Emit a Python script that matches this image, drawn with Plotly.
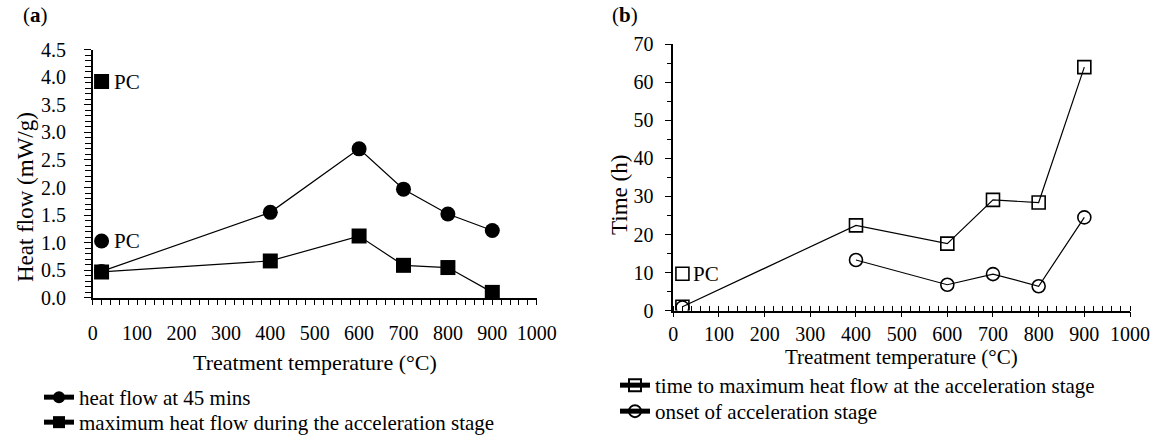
import plotly.graph_objects as go

# ---------------- data ----------------
temps = [20, 400, 600, 700, 800, 900]
heat45 = [0.48, 1.55, 2.70, 1.97, 1.52, 1.22]
heatmax = [0.47, 0.67, 1.12, 0.59, 0.55, 0.10]
pc_temp = [20]
pc_heat45 = [1.03]
pc_heatmax = [3.92]

time_max = [1.0, 22.4, 17.6, 29.1, 28.4, 64.0]
onset_temps = [400, 600, 700, 800, 900]
onset = [13.3, 6.8, 9.6, 6.4, 24.5]
onset_start_temp = [20]
onset_start = [0.8]
pc_time_max = [9.7]

x_ticks = [0, 100, 200, 300, 400, 500, 600, 700, 800, 900, 1000]

W, H = 1163, 441
FONT = "Liberation Serif"
FS_TICK = 20
FS_LEG = 21
FS_TITLE = 22


def px(x):
    return x / W


def py(y):
    return 1 - y / H


fig = go.Figure()

line = dict(color="black", width=1.2)

# panel (a)
fig.add_trace(go.Scatter(x=temps, y=heat45, mode="lines+markers", name="heat flow at 45 mins",
                         line=line, marker=dict(symbol="circle", size=15, color="black"),
                         xaxis="x", yaxis="y", legend="legend"))
fig.add_trace(go.Scatter(x=temps, y=heatmax, mode="lines+markers",
                         name="maximum heat flow during the acceleration stage",
                         line=line, marker=dict(symbol="square", size=15, color="black"),
                         xaxis="x", yaxis="y", legend="legend3"))
fig.add_trace(go.Scatter(x=pc_temp, y=pc_heat45, mode="markers", showlegend=False,
                         marker=dict(symbol="circle", size=15, color="black"), xaxis="x", yaxis="y"))
fig.add_trace(go.Scatter(x=pc_temp, y=pc_heatmax, mode="markers", showlegend=False,
                         marker=dict(symbol="square", size=15, color="black"), xaxis="x", yaxis="y"))

# panel (b)
open_sq = dict(symbol="square-open", size=13, color="black", line=dict(width=1.6, color="black"))
open_ci = dict(symbol="circle-open", size=13, color="black", line=dict(width=1.6, color="black"))
fig.add_trace(go.Scatter(x=temps, y=time_max, mode="lines+markers",
                         name="time to maximum heat flow at the acceleration stage",
                         line=line, marker=open_sq, xaxis="x2", yaxis="y2", legend="legend2"))
fig.add_trace(go.Scatter(x=onset_temps, y=onset, mode="lines+markers",
                         name="onset of acceleration stage",
                         line=line, marker=open_ci, xaxis="x2", yaxis="y2", legend="legend4"))
fig.add_trace(go.Scatter(x=onset_start_temp, y=onset_start, mode="markers", showlegend=False,
                         marker=open_ci, xaxis="x2", yaxis="y2"))
fig.add_trace(go.Scatter(x=pc_temp, y=pc_time_max, mode="markers", showlegend=False,
                         marker=open_sq, xaxis="x2", yaxis="y2"))

tickfont = dict(family=FONT, size=FS_TICK, color="black")

# domains
xa_dom = [px(92.7), px(536.7)]
ya_dom = [py(297.9), py(49.5)]
xb_dom = [px(673.3), px(1130.0)]
yb_dom = [py(310.6), py(44.3)]

common_x = dict(range=[0, 1000], tickvals=x_ticks, showgrid=False, zeroline=False,
                showline=True, linecolor="black", linewidth=1.6, tickcolor="black",
                tickwidth=1.3, tickfont=tickfont, fixedrange=True, automargin=False)


def leg(x, y):
    return dict(x=px(x), y=py(y), xanchor="left", yanchor="top", bgcolor="rgba(0,0,0,0)",
                font=dict(family=FONT, size=FS_LEG, color="black"), tracegroupgap=0,
                itemsizing="constant", borderwidth=0)


fig.update_layout(
    template="none",
    width=W, height=H, margin=dict(l=0, r=0, t=0, b=0, pad=0, autoexpand=False),
    paper_bgcolor="white", plot_bgcolor="white",
    font=dict(family=FONT, size=FS_TICK, color="black"),
    xaxis=dict(domain=xa_dom, anchor="y", ticks="outside", ticklen=5, ticklabelstandoff=11,
               minor=dict(ticks="outside", ticklen=5, dtick=20, tickcolor="black", tickwidth=1.1),
               **common_x),
    yaxis=dict(domain=ya_dom, anchor="x", range=[0, 4.5], dtick=0.5, tickformat=".1f",
               ticks="outside", ticklen=7, ticklabelstandoff=14, automargin=False,
               showgrid=False, zeroline=False, showline=True,
               linecolor="black", linewidth=1.6, tickcolor="black", tickwidth=1.3,
               tickfont=tickfont, fixedrange=True,
               minor=dict(ticks="outside", ticklen=6, dtick=0.1, tickcolor="black", tickwidth=1.1)),
    xaxis3=dict(overlaying="x", anchor="y", range=[0, 1000], tickvals=x_ticks, ticks="inside",
                ticklen=8, tickcolor="black", tickwidth=1.3, showticklabels=False,
                showgrid=False, zeroline=False, showline=False, fixedrange=True),
    yaxis3=dict(overlaying="y", anchor="x", range=[0, 4.5], dtick=0.5, ticks="inside",
                ticklen=7, tickcolor="black", tickwidth=1.3, showticklabels=False,
                showgrid=False, zeroline=False, showline=False, fixedrange=True),
    xaxis2=dict(domain=xb_dom, anchor="y2", ticks="outside", ticklen=5, ticklabelstandoff=0,
                minor=dict(ticks="inside", ticklen=5, dtick=20, tickcolor="black", tickwidth=1.1),
                **common_x),
    yaxis2=dict(domain=yb_dom, anchor="x2", range=[0, 70], dtick=10,
                ticks="outside", ticklen=7, ticklabelstandoff=7, automargin=False,
                showgrid=False, zeroline=False, showline=True,
                linecolor="black", linewidth=1.6, tickcolor="black", tickwidth=1.3,
                tickfont=tickfont, fixedrange=True,
                minor=dict(ticks="outside", ticklen=5, dtick=5, tickcolor="black", tickwidth=1.1)),
    xaxis4=dict(overlaying="x2", anchor="y2", range=[0, 1000], tickvals=x_ticks, ticks="inside",
                ticklen=6, tickcolor="black", tickwidth=1.3, showticklabels=False,
                showgrid=False, zeroline=False, showline=False, fixedrange=True),
    yaxis4=dict(overlaying="y2", anchor="x2", range=[0, 70], dtick=10, ticks="inside",
                ticklen=7, tickcolor="black", tickwidth=1.3, showticklabels=False,
                showgrid=False, zeroline=False, showline=False, fixedrange=True),
    legend=leg(39, 377),
    legend3=leg(39, 402),
    legend2=leg(615, 365),
    legend4=leg(615, 391),
    showlegend=True,
)

ann = []
ann.append(dict(text="(<b>a</b>)", x=px(21), y=py(15), xref="paper", yref="paper",
                xanchor="left", yanchor="middle", showarrow=False,
                font=dict(family=FONT, size=FS_LEG, color="black")))
ann.append(dict(text="(<b>b</b>)", x=px(610), y=py(15), xref="paper", yref="paper",
                xanchor="left", yanchor="middle", showarrow=False,
                font=dict(family=FONT, size=FS_LEG, color="black")))
ann.append(dict(text="Heat flow (mW/g)", x=px(25), y=py(197), xref="paper", yref="paper",
                xanchor="center", yanchor="middle", textangle=-90, showarrow=False,
                font=dict(family=FONT, size=FS_TITLE + 1, color="black")))
ann.append(dict(text="Time (h)", x=px(619), y=py(195), xref="paper", yref="paper",
                xanchor="center", yanchor="middle", textangle=-90, showarrow=False,
                font=dict(family=FONT, size=FS_TITLE + 1, color="black")))
ann.append(dict(text="Treatment temperature (°C)", x=(xa_dom[0] + xa_dom[1]) / 2, y=py(362),
                xref="paper", yref="paper", xanchor="center", yanchor="middle", showarrow=False,
                font=dict(family=FONT, size=FS_TITLE, color="black")))
ann.append(dict(text="Treatment temperature (°C)", x=(xb_dom[0] + xb_dom[1]) / 2, y=py(357),
                xref="paper", yref="paper", xanchor="center", yanchor="middle", showarrow=False,
                font=dict(family=FONT, size=FS_TITLE - 1, color="black")))
# PC labels
ann.append(dict(text="PC", x=pc_temp[0], y=pc_heatmax[0], xref="x", yref="y", xanchor="left",
                yanchor="middle", xshift=10, showarrow=False,
                font=dict(family=FONT, size=FS_LEG, color="black")))
ann.append(dict(text="PC", x=pc_temp[0], y=pc_heat45[0], xref="x", yref="y", xanchor="left",
                yanchor="middle", xshift=10, showarrow=False,
                font=dict(family=FONT, size=FS_LEG, color="black")))
ann.append(dict(text="PC", x=pc_temp[0], y=pc_time_max[0], xref="x2", yref="y2", xanchor="left",
                yanchor="middle", xshift=9, showarrow=False,
                font=dict(family=FONT, size=FS_LEG, color="black")))
fig.update_layout(annotations=ann)

fig.write_html("out.html")
